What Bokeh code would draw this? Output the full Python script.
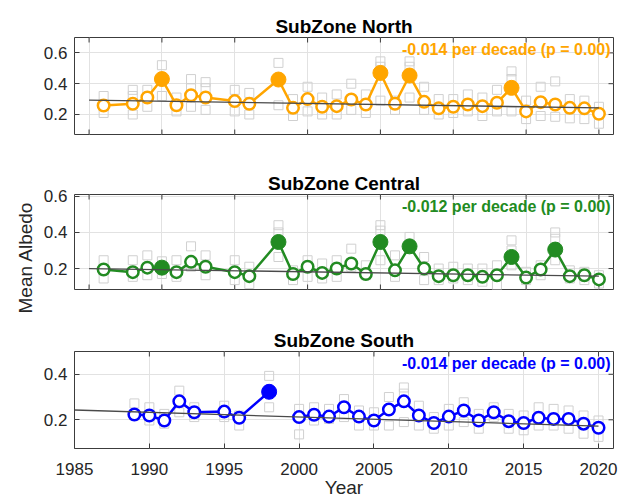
from bokeh.plotting import figure
from bokeh.models import Range1d, Label, FixedTicker, Title
from bokeh.layouts import column
from bokeh.embed import file_html
from bokeh.resources import INLINE
import numpy as np

FONT = "Liberation Sans"

# ---------------- data ----------------
north_years = [1986, 1988, 1989, 1990, 1991, 1992, 1993, 1995, 1996, 1998, 1999, 2000, 2001, 2002, 2003,
               2004, 2005, 2006, 2007, 2008, 2009, 2010, 2011, 2012, 2013, 2014, 2015, 2016, 2017, 2018, 2019, 2020]
north_mean = [0.258, 0.27, 0.31, 0.43, 0.26, 0.325, 0.31, 0.287, 0.27, 0.427, 0.243, 0.30, 0.25, 0.254, 0.297,
              0.265, 0.47, 0.27, 0.453, 0.282, 0.24, 0.25, 0.265, 0.254, 0.276, 0.373, 0.22, 0.28, 0.265, 0.243, 0.24, 0.205]
north_hi = [0.32, 0.36, 0.36, 0.52, 0.31, 0.43, 0.41, 0.36, 0.34, 0.535, 0.30, 0.38, 0.31, 0.33, 0.40,
            0.33, 0.545, 0.29, 0.545, 0.38, 0.30, 0.30, 0.33, 0.31, 0.36, 0.48, 0.29, 0.38, 0.415, 0.30, 0.29, 0.25]
north_lo = [0.21, 0.20, 0.25, 0.32, 0.22, 0.25, 0.23, 0.22, 0.20, 0.26, 0.19, 0.22, 0.20, 0.20, 0.23,
            0.21, 0.29, 0.23, 0.31, 0.23, 0.20, 0.21, 0.22, 0.19, 0.22, 0.22, 0.17, 0.19, 0.185, 0.175, 0.17, 0.14]
north_extra_years = [1988, 1992, 1993, 2005, 2007, 2014]
north_extra_vals = [0.32, 0.37, 0.37, 0.51, 0.51, 0.43]
north_filled = [1990, 1998, 2005, 2007, 2014]
north_trend_years = [1985, 2020]
north_trend_vals = [0.293, 0.243]

central_years = north_years
central_mean = [0.195, 0.18, 0.205, 0.205, 0.18, 0.237, 0.21, 0.18, 0.158, 0.347, 0.17, 0.21, 0.176, 0.20, 0.228,
                0.17, 0.347, 0.19, 0.323, 0.20, 0.158, 0.163, 0.163, 0.154, 0.163, 0.264, 0.15, 0.195, 0.305, 0.158, 0.163, 0.14]
central_hi = [0.246, 0.246, 0.273, 0.24, 0.246, 0.323, 0.273, 0.246, 0.21, 0.44, 0.19, 0.246, 0.228, 0.246, 0.31,
              0.218, 0.44, 0.273, 0.375, 0.264, 0.20, 0.21, 0.20, 0.20, 0.218, 0.356, 0.182, 0.218, 0.40, 0.19, 0.182, 0.163]
central_lo = [0.145, 0.154, 0.163, 0.17, 0.154, 0.21, 0.163, 0.136, 0.114, 0.264, 0.136, 0.154, 0.145, 0.154, 0.21,
              0.163, 0.246, 0.154, 0.31, 0.136, 0.136, 0.145, 0.136, 0.127, 0.108, 0.218, 0.136, 0.163, 0.246, 0.145, 0.136, 0.117]
central_extra_years = [1998, 2005, 2014, 2017]
central_extra_vals = [0.40, 0.41, 0.30, 0.365]
central_filled = [1990, 1998, 2005, 2007, 2014, 2017]
central_trend_years = [1985, 2020]
central_trend_vals = [0.20, 0.158]

south_years = [1989, 1990, 1991, 1992, 1993, 1995, 1996, 1998, 1999, 2000, 2001, 2002, 2003, 2004, 2005, 2006,
               2007, 2008, 2009, 2010, 2011, 2012, 2013, 2014, 2015, 2016, 2017, 2018, 2019, 2020]
south_mean = [0.223, 0.219, 0.197, 0.281, 0.233, 0.236, 0.209, 0.323, np.nan, 0.212, 0.222, 0.214, 0.255, 0.214, 0.197, 0.245,
              0.281, 0.219, 0.186, 0.214, 0.241, 0.197, 0.233, 0.194, 0.186, 0.209, 0.204, 0.204, 0.183, 0.165]
south_hi = [0.272, 0.255, 0.226, 0.328, 0.255, 0.262, 0.219, 0.393, np.nan, 0.248, 0.255, 0.248, 0.291, 0.241, 0.233, 0.30,
            0.342, 0.262, 0.212, 0.248, 0.277, 0.226, 0.255, 0.226, 0.219, 0.255, 0.248, 0.241, 0.219, 0.197]
south_lo = [0.219, 0.197, 0.183, 0.233, 0.212, 0.212, 0.175, 0.255, np.nan, 0.136, 0.197, 0.204, 0.212, 0.175, 0.175, 0.175,
            0.19, 0.175, 0.161, 0.175, 0.19, 0.161, 0.212, 0.161, 0.154, 0.175, 0.175, 0.161, 0.139, 0.125]
south_extra_years = [2007]
south_extra_vals = [0.315]
south_filled = [1998]
south_trend_years = [1985, 2020]
south_trend_vals = [0.243, 0.172]

x_ticks = [1985, 1990, 1995, 2000, 2005, 2010, 2015, 2020]
x_tick_labels = ["1985", "1990", "1995", "2000", "2005", "2010", "2015", "2020"]

TEXT = "#262626"
EDGE = "#3c3c3c"
FRAME_W = 539
LEFT = 74


def panel(title, years, mean, hi, lo, ex_y, ex_v, filled, tr_y, tr_v, color, note,
          xr, yr, yticks, b_top, f_h, b_bot, show_x):
    p = figure(frame_width=FRAME_W, frame_height=f_h, min_border_left=LEFT, min_border_right=15,
               min_border_top=b_top, min_border_bottom=b_bot,
               x_range=Range1d(*xr), y_range=Range1d(*yr),
               output_backend="svg", toolbar_location=None, title=title)
    p.title.text_font = FONT
    p.title.text_font_size = "19px"
    p.title.text_font_style = "bold"
    p.title.text_color = "#000000"
    p.title.align = "center"
    p.title.standoff = 2
    p.outline_line_color = EDGE
    p.outline_line_width = 1

    xt = FixedTicker(ticks=x_ticks)
    yt = FixedTicker(ticks=yticks)
    p.xgrid.ticker = xt
    p.ygrid.ticker = yt
    p.grid.grid_line_color = "#e2e2e2"
    p.grid.grid_line_width = 1

    ax = p.yaxis[0]
    ax.ticker = yt
    ax.axis_line_color = None
    ax.major_tick_in = 5
    ax.major_tick_out = 0
    ax.major_tick_line_color = EDGE
    ax.minor_tick_line_color = None
    ax.major_label_text_font = FONT
    ax.major_label_text_font_size = "17px"
    ax.major_label_text_color = TEXT
    ax.major_label_standoff = 7
    ax.major_label_overrides = {t: f"{t:.1f}" for t in yticks}

    if show_x:
        bx = p.xaxis[0]
        bx.ticker = xt
        bx.axis_line_color = None
        bx.major_tick_in = 5
        bx.major_tick_out = 0
        bx.major_tick_line_color = EDGE
        bx.minor_tick_line_color = None
        bx.major_label_text_font = FONT
        bx.major_label_text_font_size = "17px"
        bx.major_label_text_color = TEXT
        bx.major_label_standoff = 14
        bx.major_label_overrides = dict(zip(x_ticks, x_tick_labels))
        bx.axis_label = "Year"
        bx.axis_label_text_font = FONT
        bx.axis_label_text_font_size = "19px"
        bx.axis_label_text_font_style = "normal"
        bx.axis_label_text_color = TEXT
        bx.axis_label_standoff = -1
    else:
        p.xaxis.visible = False
        # inward tick marks on the bottom edge
        p.scatter(x_ticks, [yr[0]] * len(x_ticks), marker="dash", angle=np.pi / 2, size=10,
                  line_color=EDGE, line_width=1)
    # inward tick marks on the top and right edges (box on)
    p.scatter(x_ticks, [yr[1]] * len(x_ticks), marker="dash", angle=np.pi / 2, size=10,
              line_color=EDGE, line_width=1)
    p.scatter([xr[1]] * len(yticks), yticks, marker="dash", size=10, line_color=EDGE, line_width=1)

    # ensemble squares
    for vals_x, vals_y in ((years, hi), (years, lo), (ex_y, ex_v)):
        p.scatter(vals_x, vals_y, marker="square", size=9, fill_color=None, line_color="#d0d0d0", line_width=1)

    # mean line
    p.line(years, mean, line_color=color, line_width=2.5)
    open_x = [y for y, m in zip(years, mean) if y not in filled]
    open_v = [m for y, m in zip(years, mean) if y not in filled]
    fill_x = [y for y, m in zip(years, mean) if y in filled]
    fill_v = [m for y, m in zip(years, mean) if y in filled]
    p.scatter(open_x, open_v, marker="circle", size=11.5, fill_color="white", line_color=color, line_width=2.5)
    p.scatter(fill_x, fill_v, marker="circle", size=15, fill_color=color, line_color=color, line_width=1)

    # trend
    p.line(tr_y, tr_v, line_color="#4a4a4a", line_width=1.3)

    ny = yr[1] - 11.5 * (yr[1] - yr[0]) / f_h
    p.add_layout(Label(x=xr[1] - 0.2, y=ny, text=note, text_align="right", text_baseline="middle",
                       text_font=FONT, text_font_size="16px", text_font_style="bold", text_color=color))
    return p


p1 = panel("SubZone North", north_years, north_mean, north_hi, north_lo, north_extra_years, north_extra_vals,
           north_filled, north_trend_years, north_trend_vals, "#FFA500", "-0.014 per decade (p = 0.00)",
           (1984, 2021), (0.07, 0.70), [0.2, 0.4, 0.6], 37, 97, 25, False)
p2 = panel("SubZone Central", central_years, central_mean, central_hi, central_lo, central_extra_years,
           central_extra_vals, central_filled, central_trend_years, central_trend_vals, "#228B22",
           "-0.012 per decade (p = 0.00)",
           (1984, 2021), (0.084, 0.61), [0.2, 0.4, 0.6], 35, 95, 26, False)
# shared y label, left of the middle panel (centred on the whole figure, slightly below this panel's centre)
p2.add_layout(Title(text="Mean Albedo", align="left", offset=-24, standoff=10, text_font=FONT,
                    text_font_size="19px", text_font_style="normal", text_color=TEXT), "left")
p3 = panel("SubZone South", south_years, south_mean, south_hi, south_lo, south_extra_years, south_extra_vals,
           south_filled, south_trend_years, south_trend_vals, "#0000FF", "-0.014 per decade (p = 0.00)",
           (1985, 2021), (0.074, 0.50), [0.2, 0.4], 36, 97, 54, True)

layout = column(p1, p2, p3, spacing=0)
open("out.html", "w").write(file_html(layout, INLINE))
